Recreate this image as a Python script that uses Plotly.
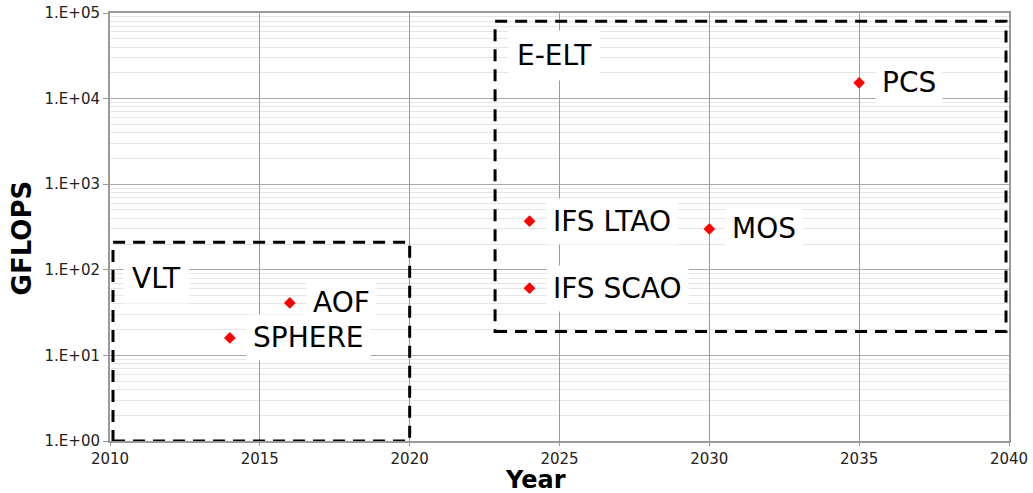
import math
import plotly.graph_objects as go

# Adaptive-optics instruments: first-light year vs. required compute (GFLOPS)
instruments = ["SPHERE", "AOF", "IFS LTAO", "IFS SCAO", "MOS", "PCS"]
years = [2014, 2016, 2024, 2024, 2030, 2035]
gflops = [16, 41, 370, 61, 300, 15300]

# Telescope groupings drawn as dashed boxes
groups = ["VLT", "E-ELT"]
group_x0 = [2010.1, 2022.85]
group_x1 = [2020.0, 2039.9]
group_y0 = [1.0, 19.0]
group_y1 = [210, 80000]
group_label_x = [2010.43, 2023.27]
group_label_y = [80, 32300]

y_tickvals = [1, 10, 100, 1000, 10000, 100000]
y_ticktext = ["1.E+00", "1.E+01", "1.E+02", "1.E+03", "1.E+04", "1.E+05"]
x_tickvals = [2010, 2015, 2020, 2025, 2030, 2035, 2040]

fig = go.Figure()

fig.add_trace(go.Scatter(
    x=years, y=gflops, mode="markers",
    marker=dict(symbol="diamond", size=9, color="#ff0000"),
    showlegend=False, hoverinfo="skip",
))

label_font = dict(family="DejaVu Sans, sans-serif", size=28, color="#000000")

# annotations on a log axis are positioned in log10 units
for name, x, y in zip(instruments, years, gflops):
    fig.add_annotation(
        x=x, y=math.log10(y), xref="x", yref="y", text=name, showarrow=False,
        xanchor="left", yanchor="middle", xshift=16,
        font=label_font, bgcolor="#ffffff", borderpad=6,
    )

for name, x0, x1, y0, y1, lx, ly in zip(groups, group_x0, group_x1, group_y0, group_y1,
                                         group_label_x, group_label_y):
    fig.add_shape(
        type="rect", xref="x", yref="y", x0=x0, x1=x1, y0=y0, y1=y1,
        line=dict(color="#000000", width=3, dash="12px,8px"), layer="above",
    )
    fig.add_annotation(
        x=lx, y=math.log10(ly), xref="x", yref="y", text=name, showarrow=False,
        xanchor="left", yanchor="middle",
        font=label_font, bgcolor="#ffffff", borderpad=8,
    )

# axis titles as free annotations
fig.add_annotation(
    x=0.473, y=-0.0905, xref="paper", yref="paper", text="<b>Year</b>", showarrow=False,
    xanchor="center", yanchor="middle", borderpad=0, font=dict(size=24, color="#000000"),
)
fig.add_annotation(
    x=-0.0968, y=0.4755, xref="paper", yref="paper", text="<b>GFLOPS</b>", showarrow=False,
    xanchor="center", yanchor="middle", textangle=-90, font=dict(size=26, color="#000000"),
)

fig.update_layout(
    width=1033, height=493,
    margin=dict(l=110, r=24, t=13, b=52),
    paper_bgcolor="#ffffff", plot_bgcolor="#ffffff",
    font=dict(family="DejaVu Sans, sans-serif", size=15, color="#222222"),
    xaxis=dict(
        range=[2010, 2040], tickvals=x_tickvals, automargin=False,
        showgrid=True, gridcolor="#9a9a9a", gridwidth=1,
        showline=True, linecolor="#9a9a9a", linewidth=2, mirror=True,
        ticks="outside", ticklen=3, tickcolor="#9a9a9a",
        zeroline=False,
    ),
    yaxis=dict(
        type="log", range=[0, 5], automargin=False,
        tickvals=y_tickvals, ticktext=y_ticktext,
        showgrid=True, gridcolor="#a8a8a8", gridwidth=1,
        minor=dict(dtick="D1", showgrid=True, gridcolor="#e6e6e6", gridwidth=1, ticks=""),
        showline=True, linecolor="#9a9a9a", linewidth=2, mirror=True,
        ticks="outside", ticklen=5, tickcolor="#9a9a9a",
        zeroline=False,
    ),
)

fig.write_html("out.html")
